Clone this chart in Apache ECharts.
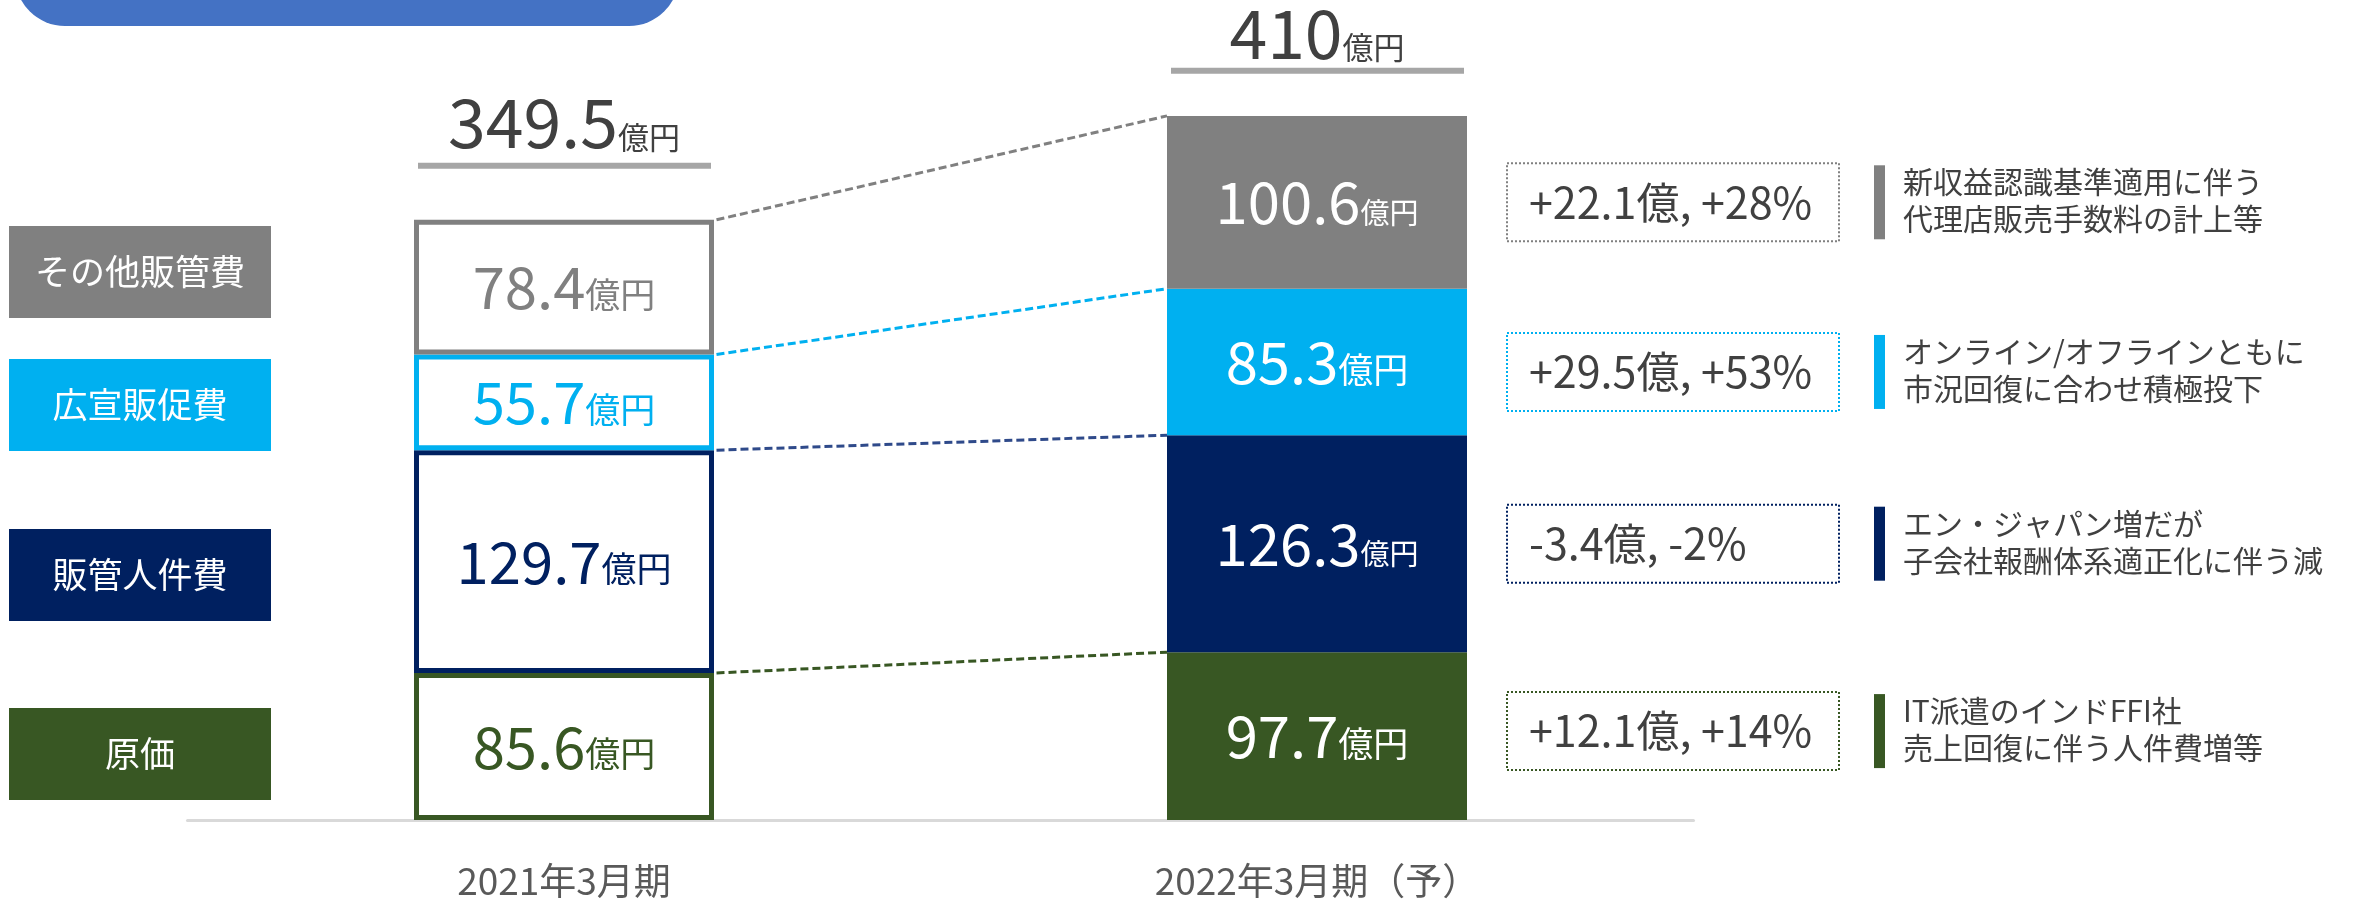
<!DOCTYPE html>
<html>
<head>
<meta charset="utf-8">
<script src="https://cdn.jsdelivr.net/npm/echarts@6/dist/echarts.min.js"></script>
<style>
html, body { margin: 0; padding: 0; background: #fff; }
#main { width: 2359px; height: 899px; }
</style>
</head>
<body>
<div id="main"></div>
<script>
// データ
var categories = ['2021年3月期', '2022年3月期（予）'];
var seriesNames = ['原価', '販管人件費', '広宣販促費', 'その他販管費'];
var values2021 = [85.6, 129.7, 55.7, 78.4];
var values2022 = [97.7, 126.3, 85.3, 100.6];
var totals = [349.5, 410];
var changeLabels = ['+12.1億, +14%', '-3.4億, -2%', '+29.5億, +53%', '+22.1億, +28%'];
var noteLines = [
    ['IT派遣のインドFFI社', '売上回復に伴う人件費増等'],
    ['エン・ジャパン増だが', '子会社報酬体系適正化に伴う減'],
    ['オンライン/オフラインともに', '市況回復に合わせ積極投下'],
    ['新収益認識基準適用に伴う', '代理店販売手数料の計上等']
];

// 見た目
var colors = ['#385723', '#002060', '#00B0F0', '#808080'];
var lineColors = ['#385723', '#2F4A8A', '#00B0F0', '#808080'];
var FONT = "'Noto Sans CJK JP', 'Noto Sans', sans-serif";
var BAR_W = 300;
var legendTops = [708, 529, 359, 226];
var totalOffsets = [[57, 63], [48, 49]];   // [下線, 文字] 棒の上端からの距離
var noteShift = [-5, 0, 10, 0];

var myChart = echarts.init(document.getElementById('main'));

// 積み上げの境界値
var top2021 = [], top2022 = [], mid2022 = [];
var s1 = 0, s2 = 0;
for (var i = 0; i < values2021.length; i++) {
    s1 += values2021[i];
    mid2022.push(s2 + values2022[i] / 2);
    s2 += values2022[i];
    top2021.push(s1);
    top2022.push(s2);
}

function valueRich(unitSize) {
    return {
        v: { fontSize: 58, lineHeight: 58, fontFamily: FONT, verticalAlign: 'bottom' },
        u: { fontSize: unitSize, lineHeight: unitSize, fontFamily: FONT, verticalAlign: 'bottom', padding: [0, 0, 4, 0] }
    };
}

var series = [];
for (var i = 0; i < seriesNames.length; i++) {
    series.push({
        name: seriesNames[i],
        type: 'bar',
        stack: 'total',
        barWidth: BAR_W,
        silent: true,
        itemStyle: { color: colors[i] },
        label: {
            show: true,
            position: 'inside',
            formatter: '{v|{c}}{u|億円}',
            rich: valueRich(35)
        },
        data: [
            {
                value: values2021[i],
                itemStyle: { color: '#fff', borderColor: colors[i], borderWidth: 5 },
                label: { color: colors[i] }
            },
            {
                value: values2022[i],
                label: { color: '#fff', rich: valueRich(values2022[i] >= 100 ? 29 : 35) }
            }
        ]
    });
}

// 合計 + 下線
series.push({
    type: 'custom',
    clip: false,
    silent: true,
    data: totals.map(function (t, i) { return [i, t]; }),
    renderItem: function (params, api) {
        var idx = params.dataIndex;
        var p = api.coord([api.value(0), api.value(1)]);
        return {
            type: 'group',
            children: [
                { type: 'rect', shape: { x: p[0] - 146, y: p[1] - totalOffsets[idx][0], width: 293, height: 6 }, style: { fill: '#A6A6A6' } },
                {
                    type: 'text', x: p[0], y: p[1] - totalOffsets[idx][1],
                    style: {
                        text: '{v|' + totals[idx] + '}{u|億円}',
                        align: 'center', verticalAlign: 'bottom', fill: '#404040',
                        rich: {
                            v: { fontSize: 68, lineHeight: 68, fontFamily: FONT, fill: '#404040', verticalAlign: 'bottom' },
                            u: { fontSize: 31, lineHeight: 31, fontFamily: FONT, fill: '#404040', verticalAlign: 'bottom', padding: [0, 0, 4, 0] }
                        }
                    }
                }
            ]
        };
    }
});

// 破線のつなぎ
series.push({
    type: 'custom',
    clip: false,
    silent: true,
    data: top2021.map(function (v, i) { return [v, top2022[i], i]; }),
    renderItem: function (params, api) {
        var a = api.coord([0, api.value(0)]);
        var b = api.coord([1, api.value(1)]);
        return {
            type: 'line',
            shape: { x1: a[0] + BAR_W / 2 + 2.5, y1: a[1], x2: b[0] - BAR_W / 2, y2: b[1] },
            style: { stroke: lineColors[api.value(2)], lineWidth: 3, lineDash: [8, 4] }
        };
    }
});

// 右側の増減と説明
series.push({
    type: 'custom',
    clip: false,
    silent: true,
    data: mid2022.map(function (v, i) { return [1, v, i]; }),
    renderItem: function (params, api) {
        var k = api.value(2);
        var p = api.coord([1, api.value(1)]);
        var x0 = p[0] + BAR_W / 2 + 40;
        var y = p[1] + noteShift[k];
        return {
            type: 'group',
            children: [
                {
                    type: 'rect',
                    shape: { x: x0, y: y - 39, width: 332, height: 78 },
                    style: { fill: 'none', stroke: colors[k], lineWidth: 2, lineDash: [2, 2] }
                },
                {
                    type: 'text', x: x0 + 22, y: y,
                    style: { text: changeLabels[k], fontSize: 43, fontFamily: FONT, fill: '#404040', align: 'left', verticalAlign: 'middle' }
                },
                {
                    type: 'rect',
                    shape: { x: x0 + 367, y: y - 37, width: 11, height: 74 },
                    style: { fill: colors[k] }
                },
                {
                    type: 'text', x: x0 + 396, y: y - 2,
                    style: {
                        text: noteLines[k].join('\n'), fontSize: 30, lineHeight: 37, fontFamily: FONT,
                        fill: '#404040', align: 'left', verticalAlign: 'middle'
                    }
                }
            ]
        };
    }
});

// 左の凡例ボックスとタイトル帯
var graphic = [
    { type: 'rect', shape: { x: 15, y: -74, width: 664, height: 100, r: 50 }, style: { fill: '#4472C4' } }
];
for (var i = 0; i < seriesNames.length; i++) {
    graphic.push({
        type: 'group',
        left: 9,
        top: legendTops[i],
        children: [
            { type: 'rect', shape: { x: 0, y: 0, width: 262, height: 92 }, style: { fill: colors[i] } },
            {
                type: 'text', x: 131, y: 46,
                style: { text: seriesNames[i], fontSize: 35, fontFamily: FONT, fill: '#fff', align: 'center', verticalAlign: 'middle' }
            }
        ]
    });
}

var option = {
    animation: false,
    backgroundColor: '#fff',
    textStyle: { fontFamily: FONT },
    grid: { left: 187.5, right: 665.5, top: 47, bottom: 79 },
    xAxis: {
        type: 'category',
        data: categories,
        axisLine: { lineStyle: { color: '#D9D9D9', width: 3 } },
        axisTick: { show: false },
        axisLabel: { fontSize: 37, color: '#595959', margin: 42, fontFamily: FONT }
    },
    yAxis: {
        type: 'value',
        min: 0,
        max: 450,
        show: false
    },
    graphic: graphic,
    series: series
};
myChart.setOption(option);
</script>
</body>
</html>
